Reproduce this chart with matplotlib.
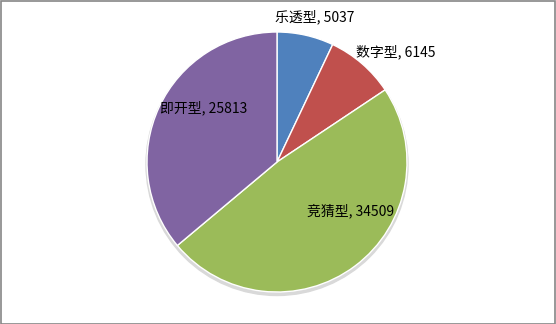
import matplotlib
matplotlib.use('Agg')
import matplotlib.pyplot as plt
from matplotlib.patches import Rectangle, Circle

plt.rcParams['font.family'] = ['Noto Sans CJK SC', 'DejaVu Sans']

# 数据
categories = ["乐透型", "数字型", "竞猜型", "即开型"]
values = [5037, 6145, 34509, 25813]
colors = ["#4F81BD", "#C0504D", "#9BBB59", "#8064A2"]

# 标签位置 (像素, 左上为原点)
label_pos = [(275, 17), (356, 52), (307, 211), (160, 108)]

W, H = 556, 324
fig = plt.figure(figsize=(W / 100, H / 100), dpi=100)
ax = fig.add_axes([0, 0, 1, 1])

cx, cy, r = 277, H - 162, 130

# 轻微阴影
ax.add_patch(Circle((cx, cy - 2.5), r + 1, color="#d9d9d9", zorder=0))

ax.pie(values, colors=colors, startangle=90, counterclock=False,
       center=(cx, cy), radius=r, frame=True,
       wedgeprops=dict(edgecolor="white", linewidth=1.0))
ax.set_xlim(0, W)
ax.set_ylim(0, H)
ax.set_aspect('equal')
ax.axis('off')

for cat, val, (x, y) in zip(categories, values, label_pos):
    ax.text(x, H - y, f"{cat}, {val}", fontsize=10, ha='left', va='center',
            color="black")

# 外框
fig.patches.append(Rectangle((0.5 / W, 0.5 / H), 1 - 1.5 / W, 1 - 1.5 / H,
                             transform=fig.transFigure, fill=False,
                             edgecolor="#868686", linewidth=1.2))

fig.savefig("out.png", dpi=100)
